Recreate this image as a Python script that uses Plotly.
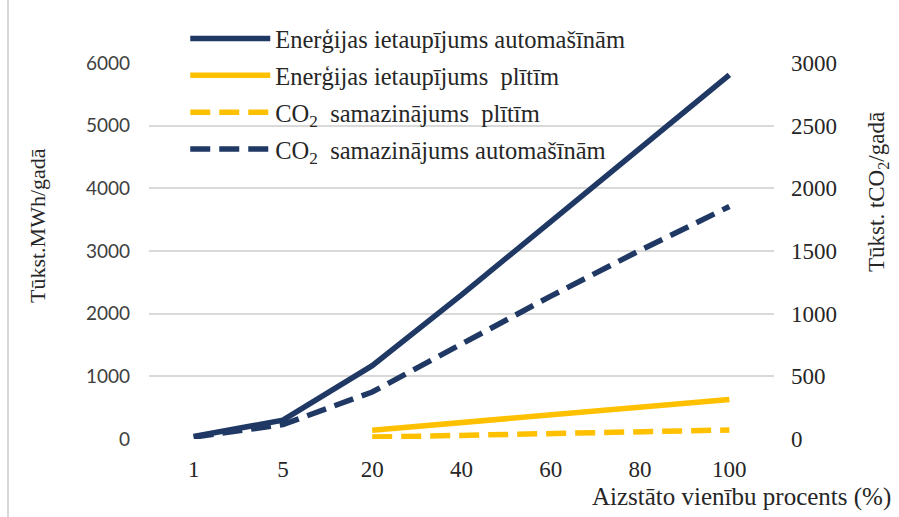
import plotly.graph_objects as go

categories = ["1", "5", "20", "40", "60", "80", "100"]
energy_cars = [40, 300, 1170, 2300, 3470, 4640, 5810]          # Tūkst. MWh/gadā
energy_stoves = [None, None, 140, 260, 380, 505, 630]          # Tūkst. MWh/gadā
co2_stoves = [None, None, 15, 30, 45, 58, 72]                   # Tūkst. tCO2/gadā
co2_cars = [15, 115, 375, 760, 1140, 1505, 1855]                # Tūkst. tCO2/gadā

left_ticks = [0, 1000, 2000, 3000, 4000, 5000, 6000]
right_ticks = [0, 500, 1000, 1500, 2000, 2500, 3000]

NAVY = "#1F3864"
GOLD = "#FFC000"
SERIF = "Liberation Serif, Times New Roman, serif"
SANS = "Lato, Open Sans, sans-serif"
TXT = "#262626"

fig = go.Figure()
fig.add_trace(go.Scatter(x=categories, y=energy_cars, mode="lines", name="Enerģijas ietaupījums automašīnām",
                         line=dict(color=NAVY, width=5.5), legendgroup="a", yaxis="y"))
fig.add_trace(go.Scatter(x=categories, y=energy_stoves, mode="lines", name="Enerģijas ietaupījums\u00a0 plītīm",
                         line=dict(color=GOLD, width=5.5), legendgroup="b", yaxis="y"))
fig.add_trace(go.Scatter(x=categories, y=co2_stoves, mode="lines", name="CO<sub>2</sub>\u00a0 samazinājums\u00a0 plītīm",
                         line=dict(color=GOLD, width=5.5, dash="20px,9px"), legendgroup="c", yaxis="y2"))
fig.add_trace(go.Scatter(x=categories, y=co2_cars, mode="lines", name="CO<sub>2</sub>\u00a0 samazinājums automašīnām",
                         line=dict(color=NAVY, width=5.5, dash="20px,9px"), legendgroup="d", yaxis="y2"))

fig.update_layout(
    width=899, height=517,
    margin=dict(l=149, r=125, t=63, b=78),
    paper_bgcolor="white", plot_bgcolor="white",
    showlegend=True,
    legend=dict(x=0.058, y=1.125, xanchor="left", yanchor="top", bgcolor="rgba(0,0,0,0)",
                font=dict(family=SERIF, size=24.5, color=TXT), traceorder="grouped",
                tracegroupgap=2, itemwidth=80),
    xaxis=dict(type="category", categoryarray=categories, range=[-0.5, 6.5], showgrid=False,
               showline=False, zeroline=False,
               ticks="", tickfont=dict(family=SERIF, size=23, color=TXT), ticklabelstandoff=14),
    yaxis=dict(range=[0, 6000], tickvals=left_ticks, showgrid=True, gridcolor="#D9D9D9", gridwidth=1.5,
               zeroline=False, showline=False, ticks="",
               tickfont=dict(family=SANS, size=19, color="#404040"), ticklabelstandoff=18),
    yaxis2=dict(range=[0, 3000], tickvals=right_ticks, overlaying="y", side="right", showgrid=False,
                zeroline=False, showline=False, ticks="",
                tickfont=dict(family=SERIF, size=23, color=TXT), ticklabelstandoff=16),
    annotations=[
        dict(text="Tūkst.MWh/gadā", xref="paper", yref="paper", x=(38 - 149) / 625, y=(439 - 226) / 376,
             textangle=-90, showarrow=False, font=dict(family=SERIF, size=22, color=TXT),
             xanchor="center", yanchor="middle"),
        dict(text="Tūkst. tCO<sub>2</sub>/gadā", xref="paper", yref="paper", x=(878 - 149) / 625,
             y=(439 - 192) / 376, textangle=-90, showarrow=False,
             font=dict(family=SERIF, size=23, color=TXT), xanchor="center", yanchor="middle"),
        dict(text="Aizstāto vienību procents (%)", xref="paper", yref="paper", x=(893 - 149) / 625,
             y=(439 - 497) / 376, showarrow=False, font=dict(family=SERIF, size=25, color=TXT),
             xanchor="right", yanchor="middle"),
    ],
    shapes=[dict(type="line", xref="paper", yref="paper", x0=(8 - 149) / 625, x1=(8 - 149) / 625,
                 y0=-78 / 376, y1=(439) / 376, line=dict(color="#D9D9D9", width=2))],
)

fig.write_html("out.html")
